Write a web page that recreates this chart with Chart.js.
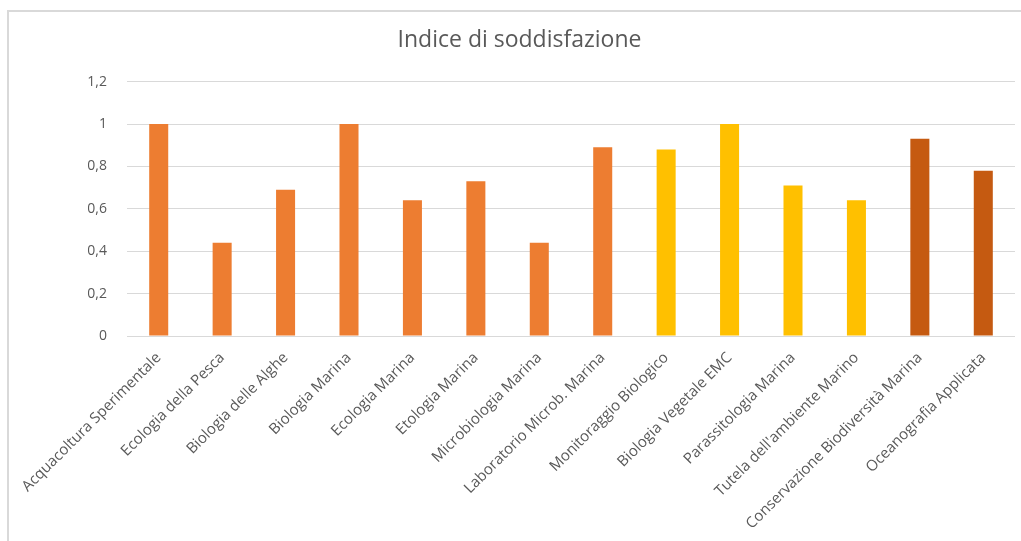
<!DOCTYPE html>
<html>
<head>
<meta charset="utf-8">
<script src="https://cdn.jsdelivr.net/npm/chart.js@4"></script>
<style>
  html, body { margin: 0; padding: 0; background: #fff; }
  .wrap { position: relative; width: 1021px; height: 541px; }
</style>
</head>
<body>
<div class="wrap">
  <canvas id="chart" width="1021" height="541"></canvas>
</div>
<script>
const categories = [
  "Acquacoltura Sperimentale",
  "Ecologia della Pesca",
  "Biologia delle Alghe",
  "Biologia Marina",
  "Ecologia Marina",
  "Etologia Marina",
  "Microbiologia Marina",
  "Laboratorio Microb. Marina",
  "Monitoraggio Biologico",
  "Biologia Vegetale EMC",
  "Parassitologia Marina",
  "Tutela dell'ambiente Marino",
  "Conservazione Biodiversità Marina",
  "Oceanografia Applicata"
];
const values = [1, 0.44, 0.69, 1, 0.64, 0.73, 0.44, 0.89, 0.88, 1, 0.71, 0.64, 0.93, 0.78];

// colour per bar (three groups in the original)
const barColors = [
  "#ED7D31", "#ED7D31", "#ED7D31", "#ED7D31", "#ED7D31", "#ED7D31", "#ED7D31", "#ED7D31",
  "#FFC000", "#FFC000", "#FFC000", "#FFC000",
  "#C55A11", "#C55A11"
];

const textColor = "#595959";
const gridColor = "#d9d9d9";

// light frame round the chart, like the pasted Excel chart
const framePlugin = {
  id: "frame",
  beforeDraw(chart) {
    const ctx = chart.ctx;
    ctx.save();
    ctx.strokeStyle = gridColor;
    ctx.lineWidth = 2;
    ctx.beginPath();
    ctx.moveTo(8, chart.height);
    ctx.lineTo(8, 11);
    ctx.lineTo(chart.width, 11);
    ctx.stroke();
    ctx.restore();
  }
};

new Chart(document.getElementById("chart"), {
  type: "bar",
  data: {
    labels: categories,
    datasets: [{
      label: "Indice di soddisfazione",
      data: values,
      backgroundColor: barColors,
      barPercentage: 0.3,
      categoryPercentage: 1
    }]
  },
  options: {
    responsive: false,
    animation: false,
    layout: { padding: { left: 24, right: 6, top: 0, bottom: 0 } },
    plugins: {
      legend: { display: false },
      tooltip: { enabled: false },
      title: {
        display: true,
        text: "Indice di soddisfazione",
        color: textColor,
        font: { family: "'Open Sans', sans-serif", size: 23, weight: "normal" },
        padding: { top: 27, bottom: 27 }
      }
    },
    scales: {
      x: {
        grid: { display: false, drawTicks: false },
        border: { display: false },
        ticks: {
          color: textColor,
          font: { family: "'Open Sans', sans-serif", size: 15 },
          maxRotation: 45,
          minRotation: 45,
          autoSkip: false,
          padding: 13
        },
        afterFit(scale) { scale.height = 205; }
      },
      y: {
        min: 0,
        max: 1.2,
        grid: { color: gridColor, lineWidth: 1, drawTicks: false },
        border: { display: false },
        ticks: {
          stepSize: 0.2,
          color: textColor,
          font: { family: "'Open Sans', sans-serif", size: 14 },
          padding: 20,
          callback: (v) => (Math.round(v * 10) / 10).toString().replace(".", ",")
        },
        afterFit(scale) { scale.width = 103; }
      }
    }
  },
  plugins: [framePlugin]
});
</script>
</body>
</html>
